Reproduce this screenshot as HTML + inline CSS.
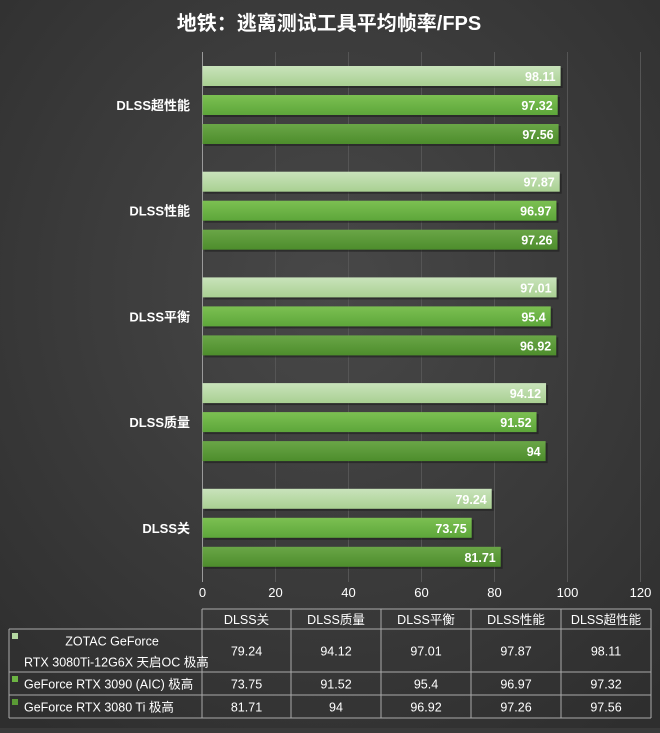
<!DOCTYPE html>
<html><head><meta charset="utf-8">
<style>
html,body{margin:0;padding:0;}
body{width:660px;height:728px;overflow:hidden;background:#3a3a3a;}
svg text{font-family:"Liberation Sans","Noto Sans CJK SC",sans-serif;}
</style></head>
<body>
<svg id="chart" width="660" height="728" viewBox="0 0 660 728" xmlns="http://www.w3.org/2000/svg">
<defs>
<radialGradient id="bg" cx="50%" cy="40%" r="75%">
<stop offset="0" stop-color="#484848"/><stop offset="1" stop-color="#2e2e2e"/>
</radialGradient>
<linearGradient id="g0" x1="0" y1="0" x2="0" y2="1"><stop offset="0" stop-color="#c9e3bb"/><stop offset="1" stop-color="#a9d092"/></linearGradient>
<linearGradient id="g1" x1="0" y1="0" x2="0" y2="1"><stop offset="0" stop-color="#7cc052"/><stop offset="1" stop-color="#5da63a"/></linearGradient>
<linearGradient id="g2" x1="0" y1="0" x2="0" y2="1"><stop offset="0" stop-color="#6aa647"/><stop offset="1" stop-color="#4d8d2c"/></linearGradient>
</defs>
<rect x="0" y="0" width="660" height="728" fill="url(#bg)"/>
<text x="329" y="30" text-anchor="middle" font-size="20" font-weight="bold" fill="#fff">地铁：逃离测试工具平均帧率/FPS</text>
<g id="grid"></g>
<g id="bars"></g>
<g id="cats"></g>
<g id="xticks"></g>
<g id="table"></g>
</svg>
<script>
const categories = ["DLSS超性能","DLSS性能","DLSS平衡","DLSS质量","DLSS关"];
const seriesNames = ["ZOTAC GeForce RTX 3080Ti-12G6X 天启OC 极高","GeForce RTX 3090 (AIC) 极高","GeForce RTX 3080 Ti 极高"];
const zotac = [98.11,97.87,97.01,94.12,79.24];
const rtx3090 = [97.32,96.97,95.4,91.52,73.75];
const rtx3080ti = [97.56,97.26,96.92,94,81.71];
const tickLabels = [0,20,40,60,80,100,120];
const tableCols = ["DLSS关","DLSS质量","DLSS平衡","DLSS性能","DLSS超性能"];

const NS="http://www.w3.org/2000/svg";
const x0=202.5, pxPer=3.65, gTop=66, gPitch=105.7, barH=20, barStep=29;
const xScale=v=>x0+v*pxPer;
const yBand=i=>gTop+i*gPitch;
function mk(tag,attrs,parent){const e=document.createElementNS(NS,tag);for(const k in attrs)e.setAttribute(k,attrs[k]);parent.appendChild(e);return e;}

const grid=document.getElementById('grid');
tickLabels.forEach(t=>{
  const l=mk('line',{x1:xScale(t),x2:xScale(t),y1:52,y2:582,stroke:t===0?'#9a9a9a':'#555',"stroke-width":1},grid);
  
  
  const tx=mk('text',{x:xScale(t),y:597,"text-anchor":"middle","font-size":13,fill:"#fff"},document.getElementById('xticks'));
  tx.textContent=t;
  
  
});

const series=[zotac,rtx3090,rtx3080ti];
const bars=document.getElementById('bars');
categories.forEach((c,i)=>{
  const ct=mk('text',{x:190,y:yBand(i)+barStep+barH/2+5,"text-anchor":"end","font-size":13,"font-weight":"bold",fill:"#fff"},document.getElementById('cats'));
  ct.textContent=c;
  
  
  series.forEach((s,j)=>{
    const y=yBand(i)+j*barStep;
    mk('rect',{x:x0+2,y:y+2,width:xScale(s[i])-x0,height:barH,fill:'#1e1e1e',opacity:0.6},bars);
    const r=mk('rect',{x:x0,y:y,width:xScale(s[i])-x0,height:barH,fill:'url(#g'+j+')'},bars);
    
    
    const v=mk('text',{x:xScale(s[i])-5,y:y+15,"text-anchor":"end","font-size":12.5,"font-weight":"bold",fill:"#fff"},bars);
    v.textContent=s[i];
    
    
  });
});

// table
const tbl=document.getElementById('table');
const colX=[202,291,381,471,561,651];
const rowY=[609,629,672,695,718];
const tL=9;
const lineAttrs={stroke:'#aaa',"stroke-width":1};
rowY.forEach((y,k)=>{
  const l=mk('line',Object.assign({x1:k===0?colX[0]:tL,x2:colX[5],y1:y,y2:y},lineAttrs),tbl);
  
  
});
colX.forEach((x,k)=>{
  const l=mk('line',Object.assign({x1:x,x2:x,y1:rowY[0],y2:rowY[4]},lineAttrs),tbl);
  
  
});
const lv=mk('line',Object.assign({x1:tL,x2:tL,y1:rowY[1],y2:rowY[4]},lineAttrs),tbl);


tableCols.forEach((c,k)=>{
  const t=mk('text',{x:(colX[k]+colX[k+1])/2,y:624,"text-anchor":"middle","font-size":12.5,fill:"#fff"},tbl);
  t.textContent=c;
  
  
});
const swatch=['#b5d8a2','#6cb443','#5a9a35'];
const colOrder=[4,3,2,1,0];
series.forEach((s,j)=>{
  const yTop=rowY[j+1], yBot=rowY[j+2], mid=(yTop+yBot)/2;
  const sw=mk('rect',{x:12,y:yTop+4,width:6,height:6,fill:swatch[j]},tbl);
  
  
  if(j===0){
    const a=mk('text',{x:112,y:mid-5,"text-anchor":"middle","font-size":12.5,fill:"#fff"},tbl);a.textContent="ZOTAC GeForce";
    
    
    const b=mk('text',{x:24,y:mid+16,"font-size":12.5,fill:"#fff"},tbl);b.textContent="RTX 3080Ti-12G6X 天启OC 极高";
    
    
  } else {
    const a=mk('text',{x:24,y:mid+5,"font-size":12.5,fill:"#fff"},tbl);a.textContent=seriesNames[j];
    
    
  }
  colOrder.forEach((ci,k)=>{
    const t=mk('text',{x:(colX[k]+colX[k+1])/2,y:mid+5,"text-anchor":"middle","font-size":12.5,fill:"#fff"},tbl);
    t.textContent=s[ci];
    
    
  });
});
</script>
</body></html>
